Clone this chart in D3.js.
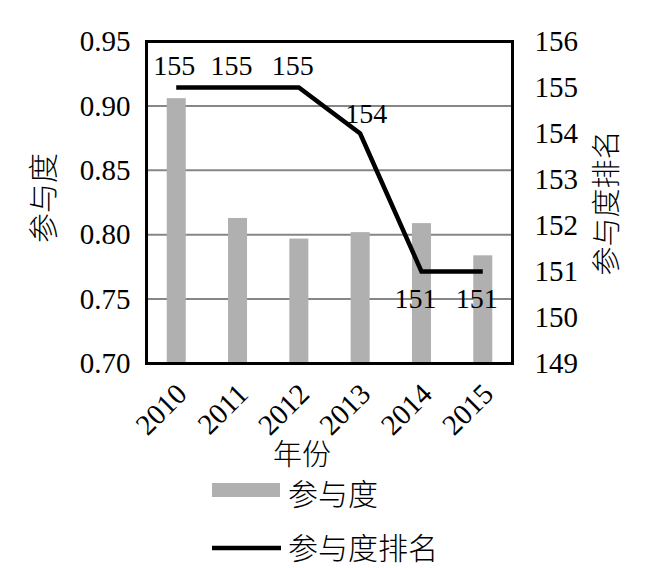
<!DOCTYPE html>
<html>
<head>
<meta charset="utf-8">
<script src="https://cdn.jsdelivr.net/npm/d3@7"></script>
<style>
  body { margin: 0; background: #fff; }
  text { font-family: "Liberation Serif", "Noto Sans CJK SC", serif; }
  .cjk { font-weight: 300; }
</style>
</head>
<body>
<div id="vis"></div>
<script>
// data
var years = ['2010', '2011', '2012', '2013', '2014', '2015'];
var participation = [0.906, 0.813, 0.797, 0.802, 0.809, 0.784];
var ranks = [155, 155, 155, 154, 151, 151];
var leftTicks = [0.70, 0.75, 0.80, 0.85, 0.90, 0.95];
var rightTicks = [149, 150, 151, 152, 153, 154, 155, 156];
// where each rank label sits relative to its point
var labelPos = ['above', 'above', 'above', 'right', 'below', 'below'];

var width = 647, height = 568;
var box = { left: 146.5, right: 512.5, top: 41.5, bottom: 363.5 };

var svg = d3.select('#vis')
    .append('svg')
    .attr('width', width)
    .attr('height', height);

var x_scale = d3.scaleBand()
    .domain(years)
    .range([box.left, box.right])
    .paddingInner(0.69)
    .paddingOuter(0.33);

var y_left = d3.scaleLinear()
    .domain([0.70, 0.95])
    .range([box.bottom, box.top]);

var y_right = d3.scaleLinear()
    .domain([149, 156])
    .range([box.bottom, box.top]);

var cx = function(d, i) { return x_scale(years[i]) + x_scale.bandwidth() / 2; };

// gridlines
svg.append('g')
    .selectAll('line')
    .data(leftTicks.slice(1, -1))
    .enter()
    .append('line')
    .attr('x1', box.left)
    .attr('x2', box.right)
    .attr('y1', function(d) { return y_left(d); })
    .attr('y2', function(d) { return y_left(d); })
    .attr('stroke', '#868686')
    .attr('stroke-width', 2);

// bars
svg.append('g')
    .selectAll('rect')
    .data(participation)
    .enter()
    .append('rect')
    .attr('x', function(d, i) { return x_scale(years[i]); })
    .attr('width', x_scale.bandwidth())
    .attr('y', function(d) { return y_left(d); })
    .attr('height', function(d) { return box.bottom - y_left(d); })
    .attr('fill', '#b0b0b0');

// rank line
var line = d3.line()
    .x(cx)
    .y(function(d) { return y_right(d); });

svg.append('path')
    .datum(ranks)
    .attr('d', line)
    .attr('fill', 'none')
    .attr('stroke', '#000')
    .attr('stroke-width', 4.5)
    .attr('stroke-linejoin', 'miter');

// rank labels
svg.append('g')
    .selectAll('text')
    .data(ranks)
    .enter()
    .append('text')
    .attr('x', function(d, i) {
        if (labelPos[i] == 'right') return cx(d, i) - 15;
        return cx(d, i) - (i == 0 ? 2 : 6);
    })
    .attr('y', function(d, i) {
        if (labelPos[i] == 'above') return y_right(d) - 13;
        if (labelPos[i] == 'right') return y_right(d) - 11;
        return y_right(d) + 36;
    })
    .attr('text-anchor', function(d, i) { return labelPos[i] == 'right' ? 'start' : 'middle'; })
    .style('font-size', '28px')
    .text(function(d) { return d; });

// plot border
svg.append('rect')
    .attr('x', box.left)
    .attr('y', box.top)
    .attr('width', box.right - box.left)
    .attr('height', box.bottom - box.top)
    .attr('fill', 'none')
    .attr('stroke', '#000')
    .attr('stroke-width', 3);

// axes
var left_axis = d3.axisLeft(y_left)
    .tickValues(leftTicks)
    .tickFormat(d3.format('.2f'))
    .tickSize(0)
    .tickPadding(16);

var right_axis = d3.axisRight(y_right)
    .tickValues(rightTicks)
    .tickFormat(d3.format('d'))
    .tickSize(0)
    .tickPadding(22);

svg.append('g')
    .attr('transform', 'translate(' + box.left + ',0)')
    .call(left_axis);

svg.append('g')
    .attr('transform', 'translate(' + box.right + ',0)')
    .call(right_axis);

var x_axis = svg.append('g')
    .attr('transform', 'translate(0,' + box.bottom + ')')
    .call(d3.axisBottom(x_scale).tickSize(0).tickPadding(0));

x_axis.selectAll('text')
    .attr('text-anchor', 'end')
    .attr('dy', '0.35em')
    .attr('transform', 'translate(5,25) rotate(-45)');

svg.selectAll('.domain').remove();
svg.selectAll('.tick text')
    .attr('font-family', '"Liberation Serif", serif')
    .style('font-family', '"Liberation Serif", serif')
    .style('font-size', '29px')
    .attr('fill', '#000');

// axis titles
svg.append('text')
    .attr('class', 'cjk')
    .attr('transform', 'translate(43,198) rotate(-90)')
    .attr('text-anchor', 'middle')
    .attr('dy', '0.35em')
    .style('font-size', '30px')
    .text('参与度');

svg.append('text')
    .attr('class', 'cjk')
    .attr('transform', 'translate(607,203) rotate(-90)')
    .attr('text-anchor', 'middle')
    .attr('dy', '0.35em')
    .style('font-size', '29px')
    .text('参与度排名');

svg.append('text')
    .attr('class', 'cjk')
    .attr('x', 302)
    .attr('y', 455)
    .attr('text-anchor', 'middle')
    .attr('dy', '0.35em')
    .style('font-size', '29px')
    .text('年份');

// legend
var legend = svg.append('g');

legend.append('rect')
    .attr('x', 212)
    .attr('y', 483)
    .attr('width', 68)
    .attr('height', 14)
    .attr('fill', '#b0b0b0');

legend.append('text')
    .attr('class', 'cjk')
    .attr('x', 288)
    .attr('y', 494)
    .attr('dy', '0.35em')
    .style('font-size', '30px')
    .text('参与度');

legend.append('line')
    .attr('x1', 212)
    .attr('x2', 281)
    .attr('y1', 548)
    .attr('y2', 548)
    .attr('stroke', '#000')
    .attr('stroke-width', 4.5);

legend.append('text')
    .attr('class', 'cjk')
    .attr('x', 288)
    .attr('y', 548)
    .attr('dy', '0.35em')
    .style('font-size', '30px')
    .text('参与度排名');
</script>
</body>
</html>
